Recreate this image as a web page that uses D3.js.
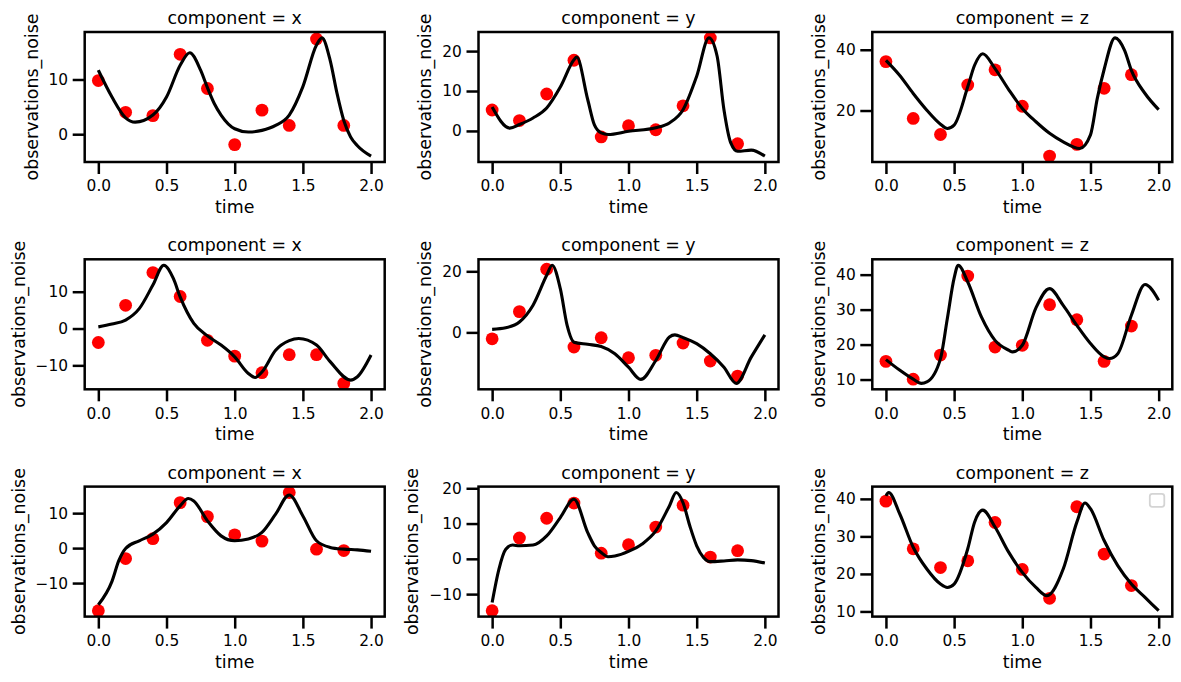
<!DOCTYPE html>
<html>
<head>
<meta charset="utf-8">
<script src="https://cdn.jsdelivr.net/npm/d3@7"></script>
<style>
  html, body { margin: 0; padding: 0; background: #fff; }
  svg { display: block; font-family: "DejaVu Sans", sans-serif; }
</style>
</head>
<body>
<svg id="chart" width="1181" height="682"></svg>
<script>
// ---------------- data ----------------
const times = [0, 0.2, 0.4, 0.6, 0.8, 1.0, 1.2, 1.4, 1.6, 1.8];
const xTickValues = [0, 0.5, 1.0, 1.5, 2.0];
const components = ["x", "y", "z"];

// row 1
const obsA = [9.8, 4.0, 3.4, 14.6, 8.35, -1.9, 4.4, 1.6, 17.4, 1.6];
const fitTA = [0, 0.1, 0.2, 0.27, 0.4, 0.5, 0.6, 0.67, 0.75, 0.8, 0.85, 0.9, 1.0, 1.1, 1.2, 1.3, 1.4, 1.5, 1.6, 1.64, 1.7, 1.75, 1.8, 1.85, 1.9, 2.0];
const fitVA = [11.7, 6.8, 3.0, 2.2, 3.5, 6.8, 12.6, 14.9, 11.7, 8.5, 5.6, 3.5, 1.0, 0.4, 0.7, 1.6, 3.5, 8.7, 16.3, 17.6, 13.5, 7.5, 2.5, -0.5, -2.1, -4.0];
const yTicksA = [0, 10];

const obsB = [5.25, 2.6, 9.25, 17.7, -1.5, 1.3, 0.3, 6.3, 23.3, -3.2];
const fitTB = [0, 0.13, 0.2, 0.3, 0.4, 0.5, 0.6, 0.62, 0.7, 0.75, 0.8, 0.85, 1.0, 1.2, 1.3, 1.4, 1.5, 1.59, 1.65, 1.7, 1.75, 1.8, 1.9, 2.0];
const fitVB = [6.0, 0.7, 1.6, 3.25, 5.75, 11.0, 17.8, 18.5, 8.0, 1.5, -0.5, -0.9, -0.1, 0.8, 2.0, 5.3, 13.7, 23.3, 18.7, 5.3, -3.0, -5.1, -4.8, -6.3];
const yTicksB = [0, 10, 20];

const obsC = [36.1, 17.4, 12.1, 28.4, 33.4, 21.4, 5.0, 8.85, 27.3, 31.8];
const fitTC = [0, 0.1, 0.2, 0.3, 0.4, 0.45, 0.5, 0.6, 0.65, 0.71, 0.8, 0.9, 1.0, 1.1, 1.2, 1.3, 1.42, 1.5, 1.55, 1.6, 1.68, 1.75, 1.8, 1.9, 2.0];
const fitVC = [36.5, 31.6, 25.6, 20.1, 15.5, 14.1, 15.2, 27.8, 34.9, 38.7, 33.8, 26.9, 20.7, 16.3, 12.5, 9.7, 7.5, 12.0, 24.0, 33.5, 43.9, 39.8, 33.2, 25.6, 20.3];
const yTicksC = [20, 40];

// row 2
const obsD = [-3.8, 6.3, 15.2, 8.7, -3.2, -7.5, -12.0, -7.1, -7.1, -14.9];
const fitTD = [0, 0.1, 0.2, 0.3, 0.4, 0.48, 0.55, 0.6, 0.7, 0.8, 0.9, 1.0, 1.1, 1.15, 1.2, 1.3, 1.4, 1.47, 1.6, 1.7, 1.85, 1.9, 2.0];
const fitVD = [0.45, 1.2, 2.3, 5.4, 11.8, 17.2, 13.6, 8.6, 1.4, -2.0, -4.5, -7.7, -12.2, -13.3, -11.8, -5.9, -3.3, -2.7, -4.5, -9.0, -14.0, -13.1, -7.2];
const yTicksD = [-10, 0, 10];

const obsE = [-2.1, 6.8, 20.7, -4.8, -1.75, -8.3, -7.5, -3.5, -9.4, -14.3];
const fitTE = [0, 0.1, 0.2, 0.3, 0.4, 0.44, 0.5, 0.55, 0.6, 0.7, 0.8, 0.9, 1.0, 1.09, 1.2, 1.3, 1.34, 1.4, 1.5, 1.6, 1.7, 1.79, 1.9, 2.0];
const fitVE = [1.0, 1.5, 3.4, 8.9, 18.7, 22.0, 14.3, 2.3, -3.2, -3.9, -4.6, -7.0, -11.4, -15.4, -9.2, -1.5, -0.8, -1.7, -3.7, -7.0, -11.4, -16.7, -8.1, -0.8];
const yTicksE = [0, 20];

const obsF = [15.2, 10.1, 17.0, 39.6, 19.3, 19.8, 31.4, 27.1, 15.2, 25.3];
const fitTF = [0, 0.1, 0.2, 0.26, 0.3, 0.4, 0.45, 0.5, 0.53, 0.6, 0.7, 0.8, 0.9, 0.93, 1.0, 1.1, 1.2, 1.3, 1.4, 1.5, 1.6, 1.64, 1.7, 1.8, 1.9, 2.0];
const fitVF = [15.7, 12.7, 10.1, 8.9, 9.3, 16.0, 27.4, 39.0, 42.7, 37.9, 27.9, 21.2, 18.4, 17.9, 19.8, 30.5, 36.0, 31.2, 25.5, 20.3, 16.5, 16.0, 17.4, 28.4, 37.2, 32.7];
const yTicksF = [10, 20, 30, 40];

// row 3
const obsG = [-17.9, -3.0, 2.7, 13.0, 9.0, 3.8, 2.0, 15.9, -0.3, -0.7];
const fitTG = [0, 0.1, 0.15, 0.2, 0.3, 0.4, 0.5, 0.6, 0.66, 0.7, 0.8, 0.9, 1.0, 1.1, 1.2, 1.3, 1.4, 1.5, 1.6, 1.7, 1.8, 1.9, 2.0];
const fitVG = [-16.2, -9.5, -3.6, -0.1, 2.1, 4.0, 7.3, 12.1, 14.2, 13.5, 7.8, 3.5, 2.1, 2.6, 4.5, 9.7, 15.2, 9.2, 2.1, 0.2, -0.3, -0.5, -0.9];
const yTicksG = [-10, 0, 10];

const obsH = [-14.7, 5.9, 11.5, 15.8, 1.6, 4.0, 9.0, 15.2, 0.5, 2.3];
const fitTH = [0, 0.05, 0.1, 0.15, 0.2, 0.3, 0.4, 0.5, 0.6, 0.7, 0.75, 0.8, 0.85, 0.9, 1.0, 1.1, 1.2, 1.3, 1.35, 1.4, 1.45, 1.5, 1.55, 1.6, 1.7, 1.8, 1.9, 2.0];
const fitVH = [-12.4, -2.9, 2.7, 3.9, 3.7, 3.9, 6.5, 11.7, 16.9, 7.5, 3.7, 1.8, 0.6, 0.8, 2.1, 4.2, 7.9, 15.0, 18.8, 15.9, 9.3, 3.7, 0.4, -0.8, -0.6, -0.3, -0.5, -1.2];
const yTicksH = [-10, 0, 10, 20];

const obsI = [39.4, 26.7, 21.7, 23.5, 33.7, 21.2, 13.5, 37.9, 25.3, 16.9];
const fitTI = [0, 0.02, 0.1, 0.2, 0.3, 0.4, 0.45, 0.5, 0.6, 0.65, 0.71, 0.8, 0.9, 1.0, 1.1, 1.18, 1.3, 1.4, 1.46, 1.5, 1.6, 1.7, 1.8, 1.9, 2.0];
const fitVI = [40.8, 41.7, 36.1, 27.1, 21.3, 17.3, 16.4, 17.3, 26.7, 33.8, 37.0, 32.5, 25.8, 20.4, 16.4, 14.2, 21.3, 33.8, 38.9, 37.4, 28.9, 22.2, 17.3, 13.75, 10.2];
const yTicksI = [10, 20, 30, 40];

const panels = [
  { comp: components[0], obs: obsA, fitT: fitTA, fitV: fitVA, yTicks: yTicksA },
  { comp: components[1], obs: obsB, fitT: fitTB, fitV: fitVB, yTicks: yTicksB },
  { comp: components[2], obs: obsC, fitT: fitTC, fitV: fitVC, yTicks: yTicksC },
  { comp: components[0], obs: obsD, fitT: fitTD, fitV: fitVD, yTicks: yTicksD },
  { comp: components[1], obs: obsE, fitT: fitTE, fitV: fitVE, yTicks: yTicksE },
  { comp: components[2], obs: obsF, fitT: fitTF, fitV: fitVF, yTicks: yTicksF },
  { comp: components[0], obs: obsG, fitT: fitTG, fitV: fitVG, yTicks: yTicksG },
  { comp: components[1], obs: obsH, fitT: fitTH, fitV: fitVH, yTicks: yTicksH },
  { comp: components[2], obs: obsI, fitT: fitTI, fitV: fitVI, yTicks: yTicksI, legend: true }
];

// ---------------- layout ----------------
const gridLeft = 84.7, colStep = 393.8, gridTop = 32, rowStep = 227.3;
const panelW = 300, panelH = 130;
const tickFont = 15.4, labelFont = 17.4;
const ink = "#000";

const svg = d3.select("#chart");
const defs = svg.append("defs");

panels.forEach((p, i) => {
  const col = i % 3, row = Math.floor(i / 3);
  const left = gridLeft + col * colStep;
  const top = gridTop + row * rowStep;

  const x = d3.scaleLinear().domain([-0.1, 2.1]).range([0, panelW]);
  const allY = p.obs.concat(p.fitV);
  const [lo, hi] = d3.extent(allY);
  const pad = (hi - lo) * 0.05;
  const y = d3.scaleLinear().domain([lo - pad, hi + pad]).range([panelH, 0]);

  const g = svg.append("g").attr("transform", `translate(${left},${top})`);

  const clipId = "clip" + i;
  defs.append("clipPath").attr("id", clipId)
    .append("rect").attr("x", 0).attr("y", 0).attr("width", panelW).attr("height", panelH);

  const plot = g.append("g").attr("clip-path", `url(#${clipId})`);

  // observations (red dots)
  plot.selectAll("circle").data(times.map((t, k) => [t, p.obs[k]]))
    .join("circle")
    .attr("cx", d => x(d[0]))
    .attr("cy", d => y(d[1]))
    .attr("r", 6.4)
    .attr("fill", "#ff0000");

  // fitted curve
  const line = d3.line()
    .x(d => x(d[0]))
    .y(d => y(d[1]))
    .curve(d3.curveMonotoneX);
  plot.append("path")
    .datum(p.fitT.map((t, k) => [t, p.fitV[k]]))
    .attr("d", line)
    .attr("fill", "none")
    .attr("stroke", "#000")
    .attr("stroke-width", 3.1)
    .attr("stroke-linejoin", "round")
    .attr("stroke-linecap", "butt");

  // axes
  const xAxis = d3.axisBottom(x).tickValues(xTickValues)
    .tickFormat(d3.format(".1f")).tickSize(12).tickPadding(6.5);
  const gx = g.append("g").attr("transform", `translate(0,${panelH})`).call(xAxis);
  const yAxis = d3.axisLeft(y).tickValues(p.yTicks)
    .tickFormat(d3.format("d")).tickSize(12).tickPadding(4.6);
  const gy = g.append("g").call(yAxis);

  [gx, gy].forEach(ax => {
    ax.select(".domain").remove();
    ax.selectAll(".tick line").attr("stroke", ink).attr("stroke-width", 2.5);
    ax.selectAll(".tick text").attr("fill", ink)
      .style("font-size", tickFont + "px")
      .style("font-family", "'DejaVu Sans', sans-serif");
  });

  // frame
  g.append("rect")
    .attr("x", 0).attr("y", 0).attr("width", panelW).attr("height", panelH)
    .attr("fill", "none").attr("stroke", ink).attr("stroke-width", 2.5);

  // title
  g.append("text")
    .attr("x", panelW / 2).attr("y", -8)
    .attr("text-anchor", "middle")
    .attr("fill", ink)
    .style("font-size", labelFont + "px")
    .text("component = " + p.comp);

  // x label
  g.append("text")
    .attr("x", panelW / 2).attr("y", panelH + 51)
    .attr("text-anchor", "middle")
    .attr("fill", ink)
    .style("font-size", labelFont + "px")
    .text("time");

  // y label, placed left of the tick labels
  const bb = gy.node().getBBox();
  const lx = bb.x - 11;
  g.append("text")
    .attr("transform", `translate(${lx},${panelH / 2}) rotate(-90)`)
    .attr("text-anchor", "middle")
    .attr("fill", ink)
    .style("font-size", labelFont + "px")
    .text("observations_noise");

  // empty legend frame
  if (p.legend) {
    g.append("rect")
      .attr("x", panelW - 22.5).attr("y", 7.2)
      .attr("width", 14.5).attr("height", 13)
      .attr("rx", 2.5)
      .attr("fill", "#fff").attr("fill-opacity", 0.8)
      .attr("stroke", "#d4d4d4").attr("stroke-width", 1.8);
  }
});
</script>
</body>
</html>
